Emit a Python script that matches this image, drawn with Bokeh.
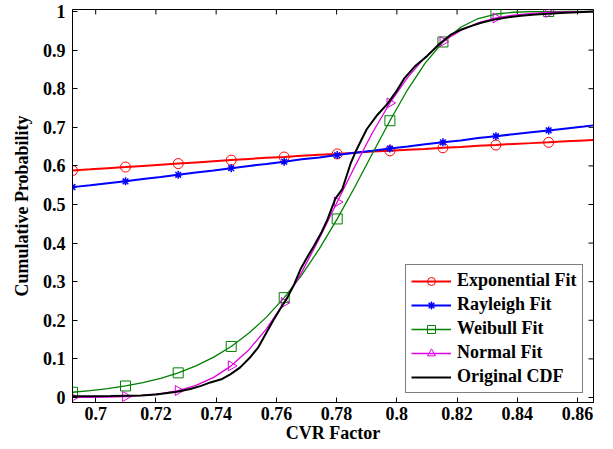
import numpy as np
from bokeh.plotting import figure
from bokeh.models import (Range1d, FixedTicker, Legend, LegendItem, CustomJSTickFormatter)
from bokeh.embed import file_html
from bokeh.resources import INLINE

# ---------------- data ----------------
x_fit = [0.6923, 0.6982, 0.7040, 0.7099, 0.7157, 0.7216, 0.7274, 0.7333, 0.7392, 0.7450,
         0.7509, 0.7567, 0.7626, 0.7684, 0.7743, 0.7802, 0.7860, 0.7919, 0.7977, 0.8036,
         0.8094, 0.8153, 0.8212, 0.8270, 0.8329, 0.8387, 0.8446, 0.8504, 0.8563, 0.8621,
         0.8653]
exp_fit = [0.588, 0.591, 0.594, 0.597, 0.600, 0.603, 0.606, 0.609, 0.612, 0.615,
           0.618, 0.621, 0.623, 0.626, 0.629, 0.631, 0.634, 0.637, 0.639, 0.642,
           0.644, 0.647, 0.649, 0.652, 0.654, 0.657, 0.659, 0.661, 0.664, 0.666,
           0.667]
ray_fit = [0.545, 0.550, 0.555, 0.560, 0.566, 0.571, 0.577, 0.583, 0.588, 0.594,
           0.600, 0.605, 0.611, 0.617, 0.622, 0.628, 0.634, 0.639, 0.645, 0.650,
           0.656, 0.661, 0.666, 0.672, 0.677, 0.682, 0.687, 0.692, 0.697, 0.702,
           0.705]
wbl_fit = [0.0135, 0.0176, 0.0229, 0.0298, 0.0385, 0.0498, 0.0638, 0.0819, 0.1045, 0.1322,
           0.1668, 0.2082, 0.2587, 0.3171, 0.3856, 0.4626, 0.5448, 0.6321, 0.7171, 0.7978,
           0.8663, 0.9211, 0.9592, 0.9818, 0.9935, 0.9981, 0.9996, 0.9999, 1.0, 1.0,
           1.0]
nrm_fit = [0.0002, 0.0005, 0.0012, 0.0026, 0.0052, 0.0100, 0.0180, 0.0314, 0.0522, 0.0820,
           0.1238, 0.1777, 0.2457, 0.3242, 0.4129, 0.5064, 0.5979, 0.6858, 0.7630, 0.8295,
           0.8818, 0.9222, 0.9511, 0.9705, 0.9832, 0.9908, 0.9952, 0.9976, 0.9989, 0.9995,
           0.9997]

x_cdf = [0.6923, 0.7050, 0.7150, 0.7200, 0.7270, 0.7314, 0.7350, 0.7381, 0.7420, 0.7447,
         0.7480, 0.7514, 0.7540, 0.7569, 0.7590, 0.7613, 0.7636, 0.7660, 0.7680, 0.7700,
         0.7724, 0.7750, 0.7769, 0.7796, 0.7819, 0.7846, 0.7865, 0.7880, 0.7900, 0.7935,
         0.7968, 0.8000, 0.8024, 0.8060, 0.8101, 0.8140, 0.8179, 0.8210, 0.8246, 0.8280,
         0.8323, 0.8370, 0.8412, 0.8460, 0.8501, 0.8560, 0.8620, 0.8653]
y_cdf = [0.003, 0.004, 0.005, 0.008, 0.015, 0.022, 0.030, 0.039, 0.048, 0.060,
         0.078, 0.105, 0.130, 0.171, 0.200, 0.230, 0.258, 0.295, 0.332, 0.360,
         0.392, 0.428, 0.460, 0.515, 0.540, 0.605, 0.640, 0.664, 0.695, 0.732,
         0.760, 0.795, 0.826, 0.858, 0.885, 0.915, 0.940, 0.952, 0.962, 0.971,
         0.979, 0.985, 0.989, 0.992, 0.994, 0.997, 0.999, 1.000]

x_ticks = [0.7, 0.72, 0.74, 0.76, 0.78, 0.8, 0.82, 0.84, 0.86]
x_tick_labels = ["0.7", "0.72", "0.74", "0.76", "0.78", "0.8", "0.82", "0.84", "0.86"]
y_ticks = [0, 0.1, 0.2, 0.3, 0.4, 0.5, 0.6, 0.7, 0.8, 0.9, 1.0]
y_tick_labels = ["0", "0.1", "0.2", "0.3", "0.4", "0.5", "0.6", "0.7", "0.8", "0.9", "1"]

series_names = ["Exponential Fit", "Rayleigh Fit", "Weibull Fit", "Normal Fit", "Original CDF"]

# ---------------- figure ----------------
FONT = "Liberation Serif"
FS = "18px"
X0, X1 = 0.6923, 0.8653
Y0, Y1 = -0.013, 1.0052

p = figure(width=613, height=449, output_backend="svg", toolbar_location=None,
           x_range=Range1d(X0, X1), y_range=Range1d(Y0, Y1),
           min_border_left=72, min_border_right=20, min_border_top=9, min_border_bottom=47)
p.grid.visible = False
p.outline_line_color = "black"
p.outline_line_width = 1
p.background_fill_color = "white"
p.border_fill_color = "white"


def fmt(tv, tl):
    return CustomJSTickFormatter(args=dict(tvals=tv, tlabs=tl), code="""
        for (let i = 0; i < tvals.length; i++) {
            if (Math.abs(tvals[i] - tick) < 1e-9) { return tlabs[i]; }
        }
        return "";
    """)


for ax, tv, tl in ((p.xaxis[0], x_ticks, x_tick_labels), (p.yaxis[0], y_ticks, y_tick_labels)):
    ax.ticker = FixedTicker(ticks=tv)
    ax.formatter = fmt(tv, tl)
    ax.major_tick_in = 5
    ax.major_tick_out = 0
    ax.minor_tick_in = 0
    ax.minor_tick_out = 0
    ax.axis_line_color = "black"
    ax.major_tick_line_color = "black"
    ax.major_label_text_font = FONT
    ax.major_label_text_font_style = "bold"
    ax.major_label_text_font_size = FS
    ax.major_label_text_color = "black"
    ax.axis_label_text_font = FONT
    ax.axis_label_text_font_style = "bold"
    ax.axis_label_text_font_size = FS
    ax.axis_label_text_color = "black"

p.xaxis[0].axis_label = "CVR Factor"
p.yaxis[0].axis_label = "Cumulative Probability"
p.xaxis[0].major_label_standoff = 4
p.xaxis[0].axis_label_standoff = 0
p.yaxis[0].major_label_standoff = 7
p.yaxis[0].axis_label_standoff = 8

# mirrored inward tick marks on the top and right edges of the box
p.scatter(x_ticks, [Y1] * len(x_ticks), marker="dash", size=10, angle=np.pi / 2,
          line_color="black", line_width=1)
p.scatter([X1] * len(y_ticks), y_ticks, marker="dash", size=10,
          line_color="black", line_width=1)

mk = slice(0, 28, 3)

r_exp_l = p.line(x_fit, exp_fit, line_color="#ff0000", line_width=2)
r_exp_m = p.scatter(x_fit[mk], exp_fit[mk], marker="circle", size=10, fill_color=None,
                    line_color="#ff0000", line_width=1)
r_ray_l = p.line(x_fit, ray_fit, line_color="#0000ff", line_width=2)
r_ray_m = p.scatter(x_fit[mk], ray_fit[mk], marker="asterisk", size=8,
                    line_color="#0000ff", line_width=1.5)
r_wbl_l = p.line(x_fit, wbl_fit, line_color="#008000", line_width=1.3)
r_wbl_m = p.scatter(x_fit[mk], wbl_fit[mk], marker="square", size=10, fill_color=None,
                    line_color="#008000", line_width=1)
r_nrm_l = p.line(x_fit, nrm_fit, line_color="#e000e0", line_width=1.3)
r_nrm_m = p.scatter(x_fit[mk], nrm_fit[mk], marker="triangle", size=10, fill_color=None,
                    line_color="#e000e0", line_width=1, angle=-np.pi / 2)
r_cdf = p.line(x_cdf, y_cdf, line_color="black", line_width=2)

items = [
    LegendItem(label=series_names[0], renderers=[r_exp_l, r_exp_m]),
    LegendItem(label=series_names[1], renderers=[r_ray_l, r_ray_m]),
    LegendItem(label=series_names[2], renderers=[r_wbl_l, r_wbl_m]),
    LegendItem(label=series_names[3], renderers=[r_nrm_l, r_nrm_m]),
    LegendItem(label=series_names[4], renderers=[r_cdf]),
]
legend = Legend(items=items, location=(333, 9), border_line_color="black",
                border_line_width=1, background_fill_color="white", background_fill_alpha=1,
                label_text_font=FONT, label_text_font_style="bold", label_text_font_size=FS,
                label_text_color="black", glyph_width=40, glyph_height=20, label_height=20,
                spacing=3, padding=5, margin=0, label_standoff=6)
p.add_layout(legend)

open("out.html", "w").write(file_html(p, INLINE))
